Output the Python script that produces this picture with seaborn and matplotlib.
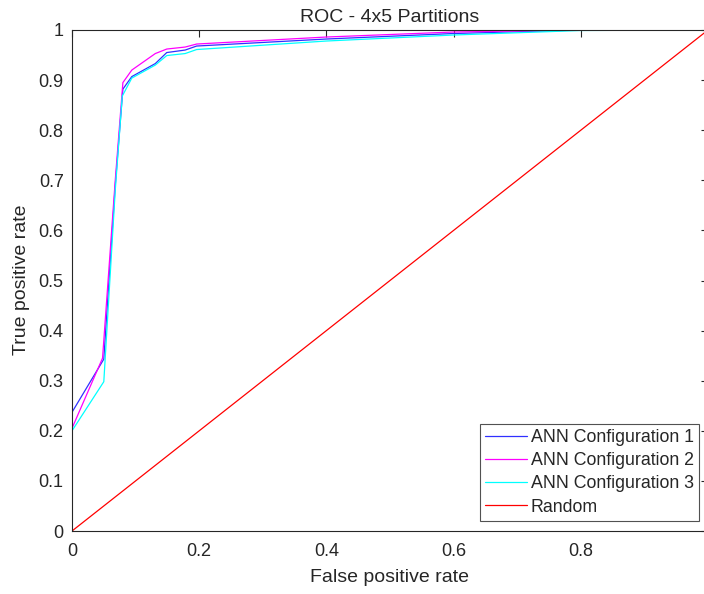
import numpy as np
import pandas as pd
import matplotlib
matplotlib.use("Agg")
import matplotlib.pyplot as plt
import seaborn as sns

title = "ROC - 4x5 Partitions"
series_names = ["ANN Configuration 1", "ANN Configuration 2", "ANN Configuration 3", "Random"]

fpr1 = [0.0, 0.0, 0.05, 0.068, 0.08, 0.094, 0.131, 0.149, 0.178, 0.196, 0.4, 0.6, 0.8, 1.0]
tpr1 = [0.0, 0.237, 0.343, 0.69, 0.882, 0.907, 0.933, 0.955, 0.96, 0.968, 0.982, 0.993, 1.0, 1.0]

fpr2 = [0.0, 0.0, 0.048, 0.068, 0.08, 0.094, 0.131, 0.149, 0.178, 0.196, 0.4, 0.6, 0.8, 1.0]
tpr2 = [0.0, 0.205, 0.345, 0.70, 0.895, 0.92, 0.953, 0.962, 0.966, 0.972, 0.986, 0.996, 1.0, 1.0]

fpr3 = [0.0, 0.0, 0.05, 0.068, 0.079, 0.094, 0.131, 0.149, 0.178, 0.196, 0.4, 0.6, 0.8, 1.0]
tpr3 = [0.0, 0.2, 0.298, 0.68, 0.868, 0.904, 0.93, 0.949, 0.953, 0.961, 0.978, 0.99, 0.999, 1.0]

fpr_rand = [0.0, 1.0]
tpr_rand = [0.0, 1.0]

x_ticks = [0, 0.2, 0.4, 0.6, 0.8, 1.0]
x_tick_labels = ["0", "0.2", "0.4", "0.6", "0.8", ""]
y_ticks = [0, 0.1, 0.2, 0.3, 0.4, 0.5, 0.6, 0.7, 0.8, 0.9, 1.0]
y_tick_labels = ["0", "0.1", "0.2", "0.3", "0.4", "0.5", "0.6", "0.7", "0.8", "0.9", "1"]

colors = ["#3030ff", "#ff00ff", "#00ffff", "#ff0000"]

sns.set_style("white")
plt.rcParams["font.family"] = ["Liberation Sans", "DejaVu Sans"]

fig = plt.figure(figsize=(7.04, 5.94), dpi=100)
ax = fig.add_axes([72/704, 63/594, 636/704, 501/594])

frames = []
for name, xs, ys in zip(series_names, [fpr1, fpr2, fpr3, fpr_rand], [tpr1, tpr2, tpr3, tpr_rand]):
    frames.append(pd.DataFrame({"fpr": xs, "tpr": ys, "series": name, "order": range(len(xs))}))
df = pd.concat(frames, ignore_index=True)

for name, c in zip(series_names, colors):
    sub = df[df["series"] == name]
    sns.lineplot(data=sub, x="fpr", y="tpr", ax=ax, color=c, linewidth=0.9,
                 sort=False, estimator=None, label=name)

ax.set_xlim(0, 1)
ax.set_ylim(0, 1)
ax.set_xticks(x_ticks)
ax.set_xticklabels(x_tick_labels)
ax.set_yticks(y_ticks)
ax.set_yticklabels(y_tick_labels)
ax.tick_params(direction="in", length=5, width=0.8, color="#262626",
               labelsize=13, labelcolor="#262626", top=True, right=True)
ax.tick_params(axis="x", pad=9)
ax.tick_params(axis="y", pad=6)
for s in ax.spines.values():
    s.set_color("#262626")
    s.set_linewidth(0.8)
ax.set_xlabel("False positive rate", fontsize=14, color="#262626")
ax.set_ylabel("True positive rate", fontsize=14, color="#262626")
ax.xaxis.set_label_coords((390-72)/636, (531-569)/501)
ax.yaxis.set_label_coords((30-72)/636, (531-280)/501)
ax.set_title(title, fontsize=14, color="#262626", pad=6)

leg = ax.legend(loc="lower right", bbox_to_anchor=((699-72)/636, 10/501), borderaxespad=0,
                fontsize=12.8, frameon=True, fancybox=False, handlelength=2.35,
                handletextpad=0.2, labelspacing=0.35, borderpad=0.3)
leg.get_frame().set_edgecolor("#262626")
leg.get_frame().set_linewidth(0.8)
for t in leg.get_texts():
    t.set_color("#262626")

fig.savefig("out.png", dpi=100)
